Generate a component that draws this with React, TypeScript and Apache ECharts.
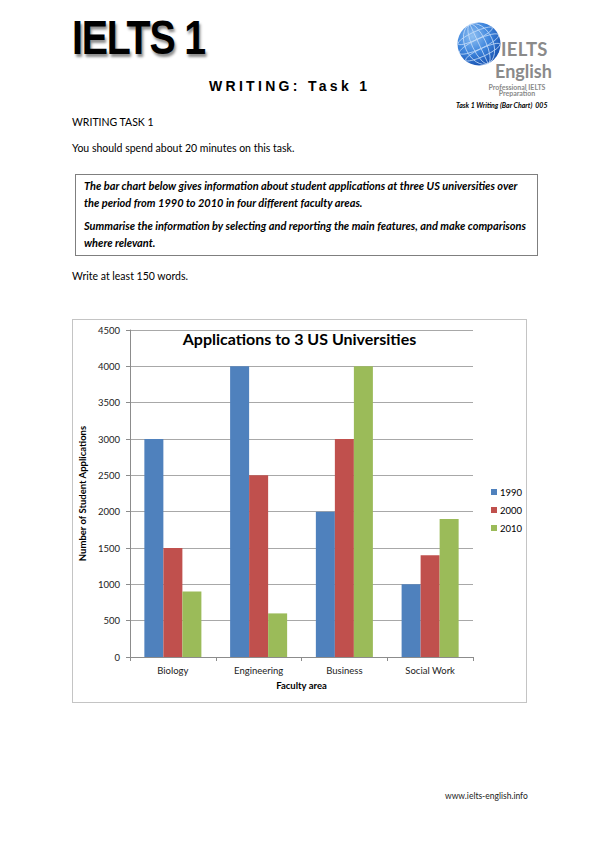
import React, { useEffect, useRef } from "react";
import * as echarts from "echarts";

const categories = ["Biology", "Engineering", "Business", "Social Work"];
const years = ["1990", "2000", "2010"];
const values1990 = [3000, 4000, 2000, 1000];
const values2000 = [1500, 2500, 3000, 1400];
const values2010 = [900, 600, 4000, 1900];
const yMin = 0;
const yMax = 4500;
const yInterval = 500;
const seriesColors = ["#4F81BD", "#C0504D", "#9BBB59"];

const FONT = "Lato, 'Open Sans', sans-serif";

function Chart() {
  const ref = useRef<HTMLDivElement>(null);
  useEffect(() => {
    if (!ref.current) return;
    const chart = echarts.init(ref.current, undefined, { renderer: "svg" });
    const seriesValues = [values1990, values2000, values2010];
    chart.setOption({
      animation: false,
      textStyle: { fontFamily: FONT },
      title: {
        text: "Applications to 3 US Universities",
        left: "center",
        top: 5,
        textStyle: { fontFamily: FONT, fontSize: 16, fontWeight: "bold", color: "#000" },
      },
      legend: {
        orient: "vertical",
        left: 413,
        top: 162,
        itemWidth: 6,
        itemHeight: 6,
        itemGap: 8,
        icon: "rect",
        textStyle: { fontFamily: FONT, fontSize: 9.5, color: "#000", padding: [0, 0, 0, -2] },
        data: years,
      },
      grid: { left: 57, top: 10, width: 343, height: 327, containLabel: false, outerBoundsMode: "none" },
      xAxis: {
        type: "category",
        data: categories,
        name: "Faculty area",
        nameLocation: "middle",
        nameGap: 23,
        nameTextStyle: { fontFamily: FONT, fontSize: 9.5, fontWeight: "bold", color: "#000" },
        axisLine: { lineStyle: { color: "#8c8c8c", width: 1 } },
        axisTick: { show: true, length: 4, lineStyle: { color: "#8c8c8c" } },
        axisLabel: { fontFamily: FONT, fontSize: 9.5, color: "#222", margin: 8 },
      },
      yAxis: {
        type: "value",
        min: yMin,
        max: yMax,
        interval: yInterval,
        name: "Number of Student Applications",
        nameLocation: "middle",
        nameGap: 33,
        nameTextStyle: { fontFamily: FONT, fontSize: 9.5, fontWeight: "bold", color: "#000" },
        axisLine: { show: true, lineStyle: { color: "#8c8c8c", width: 1 } },
        axisTick: { show: true, length: 4, lineStyle: { color: "#8c8c8c" } },
        axisLabel: { fontFamily: FONT, fontSize: 9.5, color: "#222", margin: 10, formatter: (v: number) => String(v) },
        splitLine: { show: true, lineStyle: { color: "#a8a8a8", width: 1 } },
      },
      series: years.map((y, i) => ({
        name: y,
        type: "bar",
        data: seriesValues[i],
        barGap: "0%",
        barCategoryGap: "33.5%",
        itemStyle: { color: seriesColors[i] },
      })),
    });
    return () => chart.dispose();
  }, []);
  return <div ref={ref} style={{ width: 453, height: 382 }} />;
}

function Globe() {
  return (
    <svg width="46" height="46" viewBox="0 0 46 46" style={{ position: "absolute", left: 456, top: 21 }}>
      <defs>
        <radialGradient id="gl" cx="35%" cy="32%" r="70%">
          <stop offset="0%" stopColor="#8fc0f2" />
          <stop offset="55%" stopColor="#3f86dd" />
          <stop offset="100%" stopColor="#1c57b5" />
        </radialGradient>
      </defs>
      <circle cx="23" cy="23" r="21.5" fill="url(#gl)" />
      <g fill="none" stroke="#c9e0fa" strokeWidth="0.8" opacity="0.9">
        <ellipse cx="23" cy="23" rx="7" ry="21.5" transform="rotate(-25 23 23)" />
        <ellipse cx="23" cy="23" rx="14" ry="21.5" transform="rotate(-25 23 23)" />
        <line x1="23" y1="1.5" x2="23" y2="44.5" transform="rotate(-25 23 23)" />
        <ellipse cx="23" cy="23" rx="21.5" ry="5" transform="rotate(-25 23 23)" />
        <ellipse cx="23" cy="14" rx="19" ry="4" transform="rotate(-25 23 23)" />
        <ellipse cx="23" cy="32" rx="19" ry="4" transform="rotate(-25 23 23)" />
      </g>
    </svg>
  );
}

export default function App() {
  const body: React.CSSProperties = { fontFamily: FONT, fontSize: 10.5, color: "#000", position: "absolute", whiteSpace: "nowrap", lineHeight: "14px" };
  const boxLine: React.CSSProperties = { ...body, fontSize: 11, fontWeight: "bold", fontStyle: "italic", left: 84 };
  const logoText: React.CSSProperties = { position: "absolute", fontFamily: FONT, fontWeight: "bold", color: "#8a8a8a", whiteSpace: "nowrap" };
  return (
    <div style={{ position: "absolute", left: 0, top: 0, width: 600, height: 848, background: "#fff", overflow: "hidden" }}>
      <div
        style={{
          position: "absolute",
          left: 72,
          top: 13,
          fontFamily: "'Liberation Sans', Arial, sans-serif",
          fontWeight: "bold",
          fontSize: 48,
          lineHeight: "50px",
          letterSpacing: -1.5,
          color: "#000",
          textShadow: "2px 3px 3px rgba(0,0,0,0.45)",
          whiteSpace: "nowrap",
          transform: "scaleX(0.82)",
          transformOrigin: "left top",
        }}
      >
        IELTS 1
      </div>
      <div
        style={{
          position: "absolute",
          left: 209,
          top: 78,
          fontFamily: "'Liberation Sans', Arial, sans-serif",
          fontWeight: "bold",
          fontSize: 14,
          lineHeight: "16px",
          letterSpacing: 3.3,
          whiteSpace: "nowrap",
          color: "#000",
        }}
      >
        WRITING: Task 1
      </div>
      <Globe />
      <div style={{ ...logoText, left: 501, top: 40, fontSize: 18.5, lineHeight: "18px", letterSpacing: 0.3 }}>IELTS</div>
      <div style={{ ...logoText, left: 495, top: 62, fontSize: 18, lineHeight: "18px" }}>English</div>
      <div style={{ ...logoText, left: 472, width: 90, textAlign: "center", top: 83.5, fontSize: 7, lineHeight: "6.5px" }}>
        Professional IELTS
        <br />
        Preparation
      </div>
      <div style={{ position: "absolute", left: 456, top: 100.5, fontFamily: FONT, fontWeight: "bold", fontStyle: "italic", fontSize: 7, lineHeight: "9px", color: "#000", whiteSpace: "nowrap" }}>
        Task 1 Writing (Bar Chart)&nbsp; 005
      </div>

      <div style={{ ...body, left: 72, top: 115 }}>WRITING TASK 1</div>
      <div style={{ ...body, left: 72, top: 141 }}>You should spend about 20 minutes on this task.</div>

      <div style={{ position: "absolute", left: 75, top: 174, width: 463, height: 82, border: "1px solid #7f7f7f", boxSizing: "border-box" }} />
      <div style={{ ...boxLine, top: 179 }}>The bar chart below gives information about student applications at three US universities over</div>
      <div style={{ ...boxLine, top: 196 }}>the period from 1990 to 2010 in four different faculty areas.</div>
      <div style={{ ...boxLine, top: 219 }}>Summarise the information by selecting and reporting the main features, and make comparisons</div>
      <div style={{ ...boxLine, top: 236 }}>where relevant.</div>

      <div style={{ ...body, left: 72, top: 269 }}>Write at least 150 words.</div>

      <div style={{ position: "absolute", left: 72, top: 319, width: 455, height: 384, border: "1px solid #c4c4c4", boxSizing: "border-box" }}>
        <Chart />
      </div>

      <div style={{ ...body, left: 445, top: 789, fontSize: 8.5, color: "#222" }}>www.ielts-english.info</div>
    </div>
  );
}
